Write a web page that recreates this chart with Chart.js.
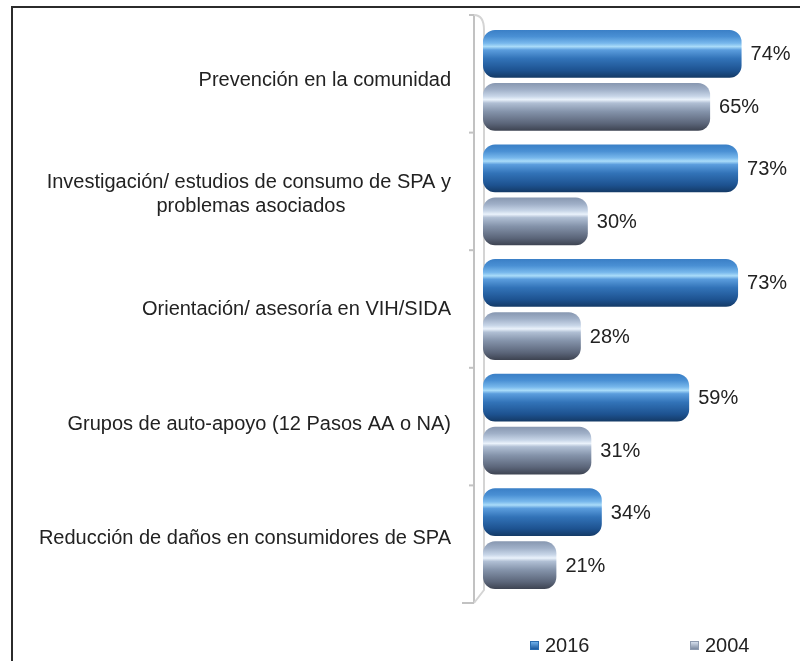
<!DOCTYPE html>
<html>
<head>
<meta charset="utf-8">
<script src="https://cdn.jsdelivr.net/npm/chart.js@4.4.1/dist/chart.umd.min.js"></script>
<style>
html,body{margin:0;padding:0;background:#fff;}
#wrap{position:relative;width:800px;height:661px;overflow:hidden;}
#frame{position:absolute;left:11px;top:6px;width:900px;height:900px;border-left:2px solid #2b2b2b;border-top:2px solid #2b2b2b;}
#c{position:absolute;left:0;top:0;}
.item{position:absolute;top:633px;height:24px;display:flex;align-items:center;font:20px "Liberation Sans",Arial,sans-serif;color:#222;white-space:nowrap;}
.sw{width:9px;height:9px;margin-right:6px;box-sizing:border-box;}
</style>
</head>
<body>
<div id="wrap">
  <div id="frame"></div>
  <canvas id="c" width="800" height="661"></canvas>
  <div class="item" id="lg0" style="left:530px"><span class="sw" style="background:linear-gradient(#6fb0ea,#1d5a9e);border:1px solid #2a6cb0"></span><span id="lt0"></span></div>
  <div class="item" id="lg1" style="left:690px"><span class="sw" style="background:linear-gradient(#d4deec,#7d8ba2);border:1px solid #8e9bb0"></span><span id="lt1"></span></div>
</div>
<script>
// ---- data ----
const categories = [
  ["Prevención en la comunidad"],
  ["Investigación/ estudios de consumo de SPA y", "problemas asociados"],
  ["Orientación/ asesoría en VIH/SIDA"],
  ["Grupos de auto-apoyo (12 Pasos AA o NA)"],
  ["Reducción de daños en consumidores de SPA"]
];
const seriesNames = ["2016", "2004"];
const values2016 = [74, 73, 73, 59, 34];
const values2004 = [65, 30, 28, 31, 21];

const FONT = '"Liberation Sans", Arial, sans-serif';
const CAT_PCT = 0.926, BAR_PCT = 0.9;

const blueStops = [[0,'#3a7fc6'],[0.14,'#4a90d4'],[0.28,'#78b8ec'],[0.35,'#aadcf9'],[0.42,'#5b9ddd'],[0.6,'#3273b8'],[0.85,'#1d5290'],[1,'#143a66']];
const grayStops = [[0,'#8797b0'],[0.14,'#a0b0c8'],[0.28,'#c8d6e8'],[0.35,'#eaf2fb'],[0.42,'#b0bfd4'],[0.6,'#8493aa'],[0.85,'#5b6579'],[1,'#3d4351']];

function barFill(ctx, stops) {
  const chart = ctx.chart;
  const ys = chart.scales && chart.scales.y;
  if (ctx.type !== 'data' || !ys || ys.bottom === undefined) return stops[4][1];
  const catW = (ys.bottom - ys.top) / categories.length;
  const slot = catW * CAT_PCT / 2;
  const thick = slot * BAR_PCT;
  const c = ys.getPixelForValue(ctx.dataIndex) + (ctx.datasetIndex === 0 ? -slot / 2 : slot / 2);
  const g = chart.ctx.createLinearGradient(0, c - thick / 2, 0, c + thick / 2);
  stops.forEach(s => g.addColorStop(s[0], s[1]));
  return g;
}

// pad second line of a wrapped label so the lines look centred on each other
const mctx = document.createElement('canvas').getContext('2d');
mctx.font = '20px ' + FONT;
function tickText(lines) {
  if (lines.length < 2) return lines[0];
  const w0 = mctx.measureText(lines[0]).width;
  const nb = mctx.measureText('\u00a0').width;
  return lines.map(l => {
    const w = mctx.measureText(l).width;
    const n = Math.max(0, Math.round((w0 - w) / 2 / nb));
    return l + '\u00a0'.repeat(n);
  });
}

const wallPlugin = {
  id: 'wall',
  beforeDatasetsDraw(chart) {
    const a = chart.chartArea, ctx = chart.ctx;
    const back = a.left - 9, front = a.left + 1;
    const bt = a.top - 8, bb = a.bottom + 7;
    ctx.save();
    ctx.lineWidth = 2;
    ctx.strokeStyle = '#c2c2c2';
    ctx.beginPath();
    ctx.moveTo(back, bt); ctx.lineTo(back, bb);
    ctx.stroke();
    ctx.strokeStyle = '#d4d4d4';
    ctx.beginPath();
    ctx.moveTo(back, bt);
    ctx.quadraticCurveTo(front, bt, front, a.top + 7);
    ctx.lineTo(front, a.bottom - 6);
    ctx.lineTo(back, bb);
    ctx.stroke();
    ctx.strokeStyle = '#c2c2c2';
    const n = categories.length;
    for (let i = 0; i <= n; i++) {
      const yy = bt + i * (bb - bt) / n;
      ctx.beginPath();
      ctx.moveTo(back - (i === n ? 12 : 5), yy); ctx.lineTo(back, yy);
      ctx.stroke();
    }
    ctx.restore();
  }
};

const labelPlugin = {
  id: 'vlabels',
  afterDatasetsDraw(chart) {
    const ctx = chart.ctx;
    ctx.save();
    ctx.font = '20px ' + FONT;
    ctx.fillStyle = '#222';
    ctx.textAlign = 'left';
    ctx.textBaseline = 'middle';
    chart.data.datasets.forEach((ds, i) => {
      chart.getDatasetMeta(i).data.forEach((bar, j) => {
        ctx.fillText(ds.data[j] + '%', bar.x + 9, bar.y + 1);
      });
    });
    ctx.restore();
  }
};

document.getElementById('lt0').textContent = seriesNames[0];
document.getElementById('lt1').textContent = seriesNames[1];

new Chart(document.getElementById('c'), {
  type: 'bar',
  data: {
    labels: categories,
    datasets: [
      { label: seriesNames[0], data: values2016, backgroundColor: c => barFill(c, blueStops) },
      { label: seriesNames[1], data: values2004, backgroundColor: c => barFill(c, grayStops) }
    ]
  },
  options: {
    indexAxis: 'y',
    responsive: false,
    animation: false,
    devicePixelRatio: 1,
    layout: { padding: { top: 23, bottom: 65, right: 20, left: 0 } },
    datasets: {
      bar: {
        categoryPercentage: CAT_PCT,
        barPercentage: BAR_PCT,
        borderRadius: 12,
        borderSkipped: false,
        borderWidth: 0
      }
    },
    scales: {
      x: { display: false, min: 0, max: 85 },
      y: {
        grid: { display: false },
        border: { display: false },
        afterFit: s => { s.width = 483; s.paddingTop = 0; s.paddingBottom = 0; },
        ticks: {
          padding: 24,
          color: '#222',
          font: { family: FONT, size: 20 },
          callback: function (v, i) { return tickText(categories[i]); }
        }
      }
    },
    plugins: {
      legend: { display: false },
      tooltip: { enabled: false }
    }
  },
  plugins: [wallPlugin, labelPlugin]
});
</script>
</body>
</html>
